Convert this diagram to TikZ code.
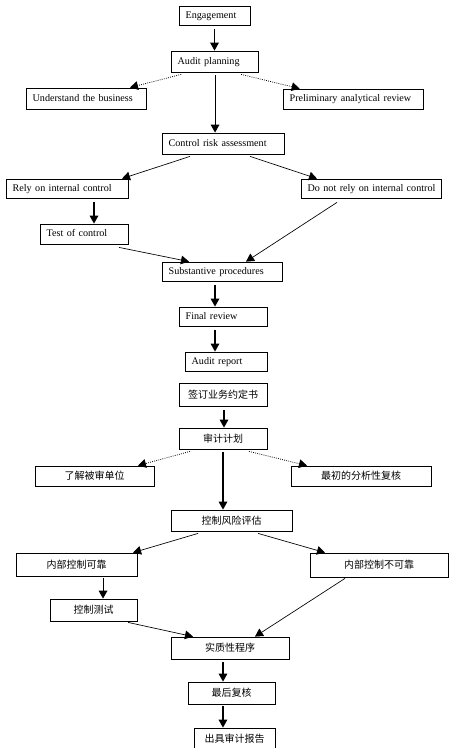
\documentclass[tikz,border=0pt]{standalone}
\usepackage{fontspec}
\setmainfont{Liberation Serif}
\newfontfamily\cjk{Noto Sans CJK SC}
\usepackage{tikz}
\usetikzlibrary{arrows,arrows.meta,shapes,positioning}

\begin{document}
\begin{tikzpicture}
			[x=0.75pt, y=-0.75pt,
			 stage/.style={rectangle, draw, line width=0.6pt, inner xsep=5pt, inner ysep=0pt, align=left, text height=5.4pt, text depth=1.6pt, font=\fontsize{7.6}{8}\selectfont},
			 cstage/.style={rectangle, draw, line width=0.6pt, inner sep=0pt, font=\cjk\fontsize{7.5}{8}\selectfont},
			 flow/.style={-{Triangle[length=6pt,width=6.5pt]}, line width=0.8pt},
			 side/.style={-{Triangle[length=6pt,width=6.5pt]}, densely dotted, line width=0.6pt},
			 cross/.style={-{Triangle[length=6pt,width=6.5pt]}, line width=0.5pt},]
			\useasboundingbox (0,0) rectangle (464,748);

			% English chart
          	\node[stage, text width=43.25pt, minimum height=14.25pt] (A1) at (214.5, 15.5) {Engagement};
          	\node[stage, text width=55.25pt, minimum height=15.75pt] (A2) at (214.5, 61.5) {Audit planning};
          	\node[stage, text width=80pt, minimum height=15.75pt] (A3) at (86, 98.5) {\mbox{Understand the business}};
          	\node[stage, text width=95pt, minimum height=15pt] (A4) at (353, 99) {\mbox{Preliminary analytical review}};
          	\node[stage, text width=81.5pt, minimum height=15.75pt] (A5) at (223, 143.5) {\mbox{Control risk assessment}};
          	\node[stage, text width=81.5pt, minimum height=14.25pt] (A6) at (67, 188.5) {\mbox{Rely on internal control}};
          	\node[stage, text width=95pt, minimum height=14.25pt] (A7) at (371, 188.5) {\mbox{Do not rely on internal control}};
          	\node[stage, text width=56pt, minimum height=15pt] (A8) at (84, 234) {Test of control};
          	\node[stage, text width=80pt, minimum height=14.25pt] (A9) at (222, 271.5) {\mbox{Substantive procedures}};
          	\node[stage, text width=56pt, minimum height=14.25pt] (A10) at (223, 316.5) {Final review};
          	\node[stage, text width=51.5pt, minimum height=14.25pt] (A11) at (226, 361.5) {Audit report};

            \draw[flow] ([yshift=-3pt]A1.south) -- (A1.south |- A2.north);
            \draw[side] ([xshift=-25pt,yshift=-1.5pt]A2.south) -- ([xshift=33pt]A3.north);
            \draw[side] ([xshift=20pt,yshift=-1.5pt]A2.south) -- ([xshift=-40pt]A4.north);
            \draw[flow] ([xshift=0.4pt,yshift=-2.25pt]A2.south) -- ([xshift=0.4pt]A2.south |- A5.north);
            \draw[cross] ([xshift=-24.75pt,yshift=-1.5pt]A5.south) -- ([xshift=41.25pt]A6.north);
            \draw[cross] ([xshift=20.25pt,yshift=-1.5pt]A5.south) -- ([xshift=-40.5pt]A7.north);
            \draw[flow] ([xshift=20.25pt,yshift=-3pt]A6.south) -- ([xshift=20.25pt]A6.south |- A8.north);
            \draw[cross] ([xshift=26.25pt,yshift=-2.25pt]A8.south) -- ([xshift=-24.75pt]A9.north);
            \draw[cross] ([xshift=-25.5pt,yshift=-3pt]A7.south) -- ([xshift=18pt]A9.north);
            \draw[flow] ([xshift=-5.25pt,yshift=-3pt]A9.south) -- ([xshift=-5.25pt]A9.south |- A10.north);
            \draw[flow] ([xshift=-6pt,yshift=-3pt]A10.south) -- ([xshift=-6pt]A10.south |- A11.north);

			% Chinese chart
          	\node[cstage, minimum width=66pt, minimum height=17.25pt] (B1) at (223, 394.5) {签订业务约定书};
          	\node[cstage, minimum width=66pt, minimum height=15.75pt] (B2) at (223, 438.5) {审计计划};
          	\node[cstage, minimum width=89.25pt, minimum height=15pt] (B3) at (94.5, 476) {了解被审单位};
          	\node[cstage, minimum width=105pt, minimum height=15pt] (B4) at (361, 476) {最初的分析性复核};
          	\node[cstage, minimum width=90.75pt, minimum height=15.75pt] (B5) at (231.5, 520.5) {控制风险评估};
          	\node[cstage, minimum width=90.75pt, minimum height=17.25pt] (B6) at (76.5, 564.5) {内部控制可靠};
          	\node[cstage, minimum width=103.5pt, minimum height=18pt] (B7) at (379, 565) {内部控制不可靠};
          	\node[cstage, minimum width=65.25pt, minimum height=16.5pt] (B8) at (93.5, 610) {控制测试};
          	\node[cstage, minimum width=88.5pt, minimum height=16.5pt] (B9) at (230, 648) {实质性程序};
          	\node[cstage, minimum width=65.25pt, minimum height=16.5pt] (B10) at (231.5, 693) {最后复核};
          	\node[cstage, minimum width=60.75pt, minimum height=16.5pt] (B11) at (234.5, 739) {出具审计报告};

            \draw[flow] ([xshift=0.75pt,yshift=-3pt]B1.south) -- ([xshift=0.75pt]B1.south |- B2.north);
            \draw[side] ([xshift=-24.75pt,yshift=-1.5pt]B2.south) -- ([xshift=32.6pt]B3.north);
            \draw[side] ([xshift=19.5pt,yshift=-1.5pt]B2.south) -- ([xshift=-40.5pt]B4.north);
            \draw[flow] ([yshift=-2.25pt]B2.south) -- (B2.south |- B5.north);
            \draw[cross] ([xshift=-25.1pt,yshift=-1.5pt]B5.south) -- ([xshift=42.4pt]B6.north);
            \draw[cross] ([xshift=19.9pt,yshift=-1.5pt]B5.south) -- ([xshift=-40.5pt]B7.north);
            \draw[flow] ([xshift=19.9pt,yshift=-1.5pt]B6.south) -- ([xshift=19.9pt]B6.south |- B8.north);
            \draw[cross] ([xshift=25.9pt,yshift=-0.75pt]B8.south) -- ([xshift=-27.75pt]B9.north);
            \draw[cross] ([xshift=-25.5pt,yshift=-0.75pt]B7.south) -- ([xshift=18.75pt]B9.north);
            \draw[flow] ([xshift=-5.25pt,yshift=-2.25pt]B9.south) -- ([xshift=-5.25pt]B9.south |- B10.north);
            \draw[flow] ([xshift=-6.4pt,yshift=-1.5pt]B10.south) -- ([xshift=-6.4pt]B10.south |- B11.north);
			\end{tikzpicture}
\end{document}
